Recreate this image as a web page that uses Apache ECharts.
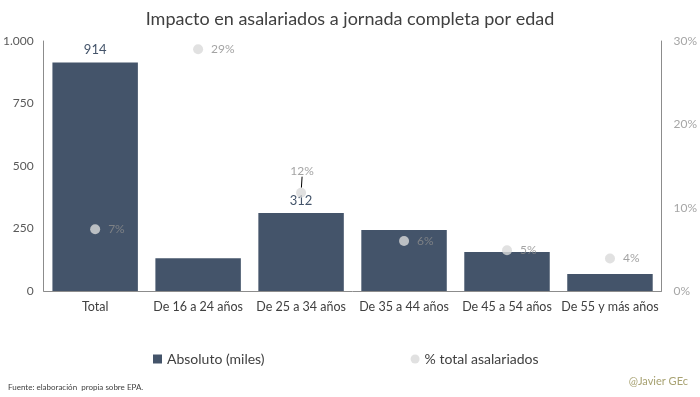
<!DOCTYPE html>
<html><head><meta charset="utf-8">
<script src="https://cdn.jsdelivr.net/npm/echarts@6/dist/echarts.min.js"></script>
<style>html,body{margin:0;padding:0;background:#fff}#c{width:700px;height:397px}</style>
</head><body><div id="c"></div>
<script>
const categories = ['Total','De 16 a 24 años','De 25 a 34 años','De 35 a 44 años','De 45 a 54 años','De 55 y más años'];
const absoluto = [914, 131, 312, 244, 156, 68];
const porcentaje = [7.4, 29.0, 11.8, 6.0, 4.9, 3.9];
const leftTicks = [0, 250, 500, 750, 1000];
const rightTicks = [0, 10, 20, 30];
const shownBarLabels = [0, 2];

const FONT = 'Lato';
const chart = echarts.init(document.getElementById('c'));
chart.setOption({
  animation: false,
  textStyle: { fontFamily: FONT },
  title: {
    text: 'Impacto en asalariados a jornada completa por edad',
    left: 'center', top: 5,
    textStyle: { fontFamily: FONT, fontSize: 18, fontWeight: 'normal', color: '#404040' }
  },
  legend: {
    left: 148, top: 347, itemGap: 146, itemWidth: 9, itemHeight: 9,
    textStyle: { fontFamily: FONT, fontSize: 14, color: '#404040' },
    data: [{ name: 'Absoluto (miles)', icon: 'rect' }, { name: '% total asalariados', icon: 'circle' }]
  },
  graphic: [
    { type: 'text', left: 8, top: 383, style: { text: 'Fuente: elaboración  propia sobre EPA.', font: '8px ' + FONT, fill: '#404040' } },
    { type: 'text', right: 12, top: 376, style: { text: '@Javier GEc', font: '11px ' + FONT, fill: '#a8a272' } }
  ],
  grid: { left: 43, right: 34, top: 41, bottom: 106, containLabel: false },
  xAxis: {
    type: 'category', data: categories,
    axisLine: { show: true, lineStyle: { color: '#8c8c8c' } },
    axisTick: { show: false },
    axisLabel: { fontFamily: FONT, fontSize: 12.5, color: '#404040', margin: 9, interval: 0 }
  },
  yAxis: [
    {
      type: 'value', min: 0, max: 1000, interval: 250,
      axisLine: { show: true, lineStyle: { color: '#8c8c8c' } },
      axisTick: { show: false }, splitLine: { show: false },
      axisLabel: { fontFamily: FONT, fontSize: 12, color: '#595959', margin: 10,
        formatter: v => leftTicks.includes(v) ? String(v).replace(/\B(?=(\d{3})+(?!\d))/g, '.') : '' }
    },
    {
      type: 'value', min: 0, max: 30, interval: 10, position: 'right',
      axisLine: { show: true, lineStyle: { color: '#8c8c8c' } },
      axisTick: { show: false }, splitLine: { show: false },
      axisLabel: { fontFamily: FONT, fontSize: 12, color: '#a6a6a6', margin: 12,
        formatter: v => rightTicks.includes(v) ? v + '%' : '' }
    }
  ],
  series: [
    {
      name: 'Absoluto (miles)', type: 'bar', yAxisIndex: 0,
      barCategoryGap: '17%',
      itemStyle: { color: '#44546a' },
      data: absoluto.map((v, i) => ({
        value: v,
        label: { show: shownBarLabels.includes(i), position: 'top', distance: 6,
          fontFamily: FONT, fontSize: 13, color: '#44546a' }
      }))
    },
    {
      name: '% total asalariados', type: 'scatter', yAxisIndex: 1,
      symbol: 'circle', symbolSize: 10,
      itemStyle: { color: '#d9d9d9' },
      label: { show: true, position: 'right', distance: 8, fontFamily: FONT, fontSize: 12, color: '#8c8c8c',
        formatter: p => Math.round(p.value) + '%' },
      labelLine: { show: true, lineStyle: { color: '#000', width: 1 } },
      labelLayout: p => p.dataIndex === 2 ? { dy: -7, dx: 1 } : {},
      data: porcentaje.map((v, i) => i === 2 ? { value: v, label: { position: 'top', distance: 4 }, labelLine: { show: true } } : { value: v, labelLine: { show: false } })
    }
  ]
});
</script></body></html>
